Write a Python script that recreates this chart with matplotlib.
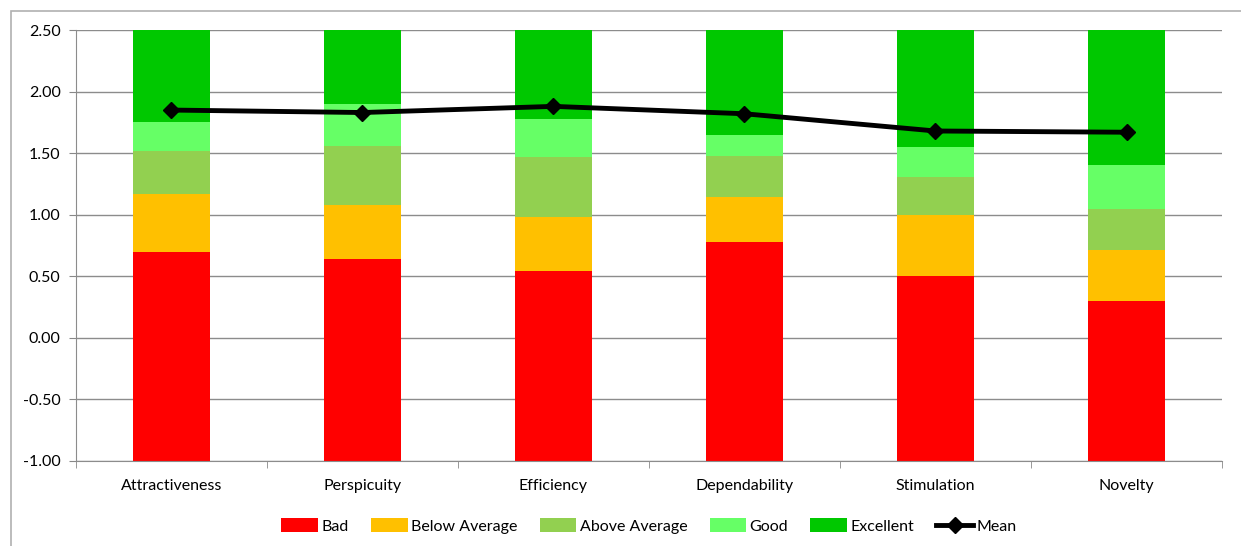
import matplotlib.pyplot as plt
import numpy as np
from matplotlib.patches import Rectangle

plt.rcParams['font.family'] = ['Lato', 'DejaVu Sans']

scales = ["Attractiveness", "Perspicuity", "Efficiency", "Dependability", "Stimulation", "Novelty"]

# benchmark borders (upper end of each band)
bad = [0.70, 0.64, 0.54, 0.78, 0.50, 0.30]
below_avg = [1.17, 1.08, 0.98, 1.14, 1.00, 0.71]
above_avg = [1.52, 1.56, 1.47, 1.48, 1.31, 1.05]
good = [1.75, 1.90, 1.78, 1.65, 1.55, 1.40]
top = 2.50
bottom = -1.00

mean = [1.85, 1.83, 1.88, 1.82, 1.68, 1.67]

band_names = ["Bad", "Below Average", "Above Average", "Good", "Excellent"]
band_colors = ["#ff0000", "#ffc000", "#92d050", "#66ff66", "#00c800"]

fig = plt.figure(figsize=(12.41, 5.46), dpi=100)
ax = fig.add_axes([0.0612, 0.1557, 0.9235, 0.7893])

x = np.arange(len(scales))
uppers = [bad, below_avg, above_avg, good, [top] * len(scales)]
lower = np.full(len(scales), bottom)
for name, col, up in zip(band_names, band_colors, uppers):
    up = np.array(up)
    ax.bar(x, up - lower, bottom=lower, width=0.4, color=col, label=name, zorder=2)
    lower = up

ax.plot(x, mean, color="black", lw=3.5, marker="D", ms=8, label="Mean", zorder=3)

ax.set_xlim(-0.5, len(scales) - 0.5)
ax.set_ylim(bottom, top)
ax.set_yticks(np.arange(-1.0, 2.51, 0.5))
ax.set_yticklabels([f"{v:.2f}" for v in np.arange(-1.0, 2.51, 0.5)], fontsize=11.5)
ax.set_xticks(x)
ax.set_xticklabels(scales, fontsize=11.5)
ax.set_xticks(np.arange(-0.5, len(scales)), minor=True)
ax.tick_params(axis="x", which="major", length=0, pad=13)
ax.tick_params(axis="x", which="minor", length=5, color="#888888")
ax.tick_params(axis="y", length=5, color="#888888", pad=6)

ax.grid(axis="y", color="#8c8c8c", lw=1, zorder=0)
for s in ["top", "right"]:
    ax.spines[s].set_visible(False)
for s in ["left", "bottom"]:
    ax.spines[s].set_color("#8c8c8c")

# bands first, mean line last
handles, labels = ax.get_legend_handles_labels()
order = [labels.index(n) for n in band_names + ["Mean"]]
ax.legend([handles[i] for i in order], [labels[i] for i in order],
          loc="upper center", bbox_to_anchor=(0.5, -0.10), ncol=6, frameon=False,
          fontsize=11.5, handlelength=2.3, handleheight=0.9, handletextpad=0.2,
          columnspacing=1.4)

# outer frame of the chart area
fig.patches.append(Rectangle((0.009, -0.02), 0.995, 1.0, transform=fig.transFigure,
                             fill=False, edgecolor="#b0b0b0", lw=1.2))

fig.savefig("out.png", dpi=100)
